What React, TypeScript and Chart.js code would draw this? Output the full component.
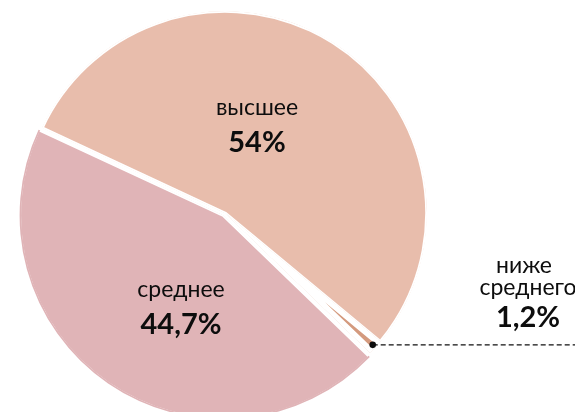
import React, { useEffect, useRef } from "react";
import { Chart, registerables } from "chart.js";

Chart.register(...registerables);

const categories = ["высшее", "ниже среднего", "среднее"];
const values = [54, 1.2, 44.7];
const valueLabels = ["54%", "1,2%", "44,7%"];
const colors = ["#E8BDAC", "#D49A7E", "#E0B4B7"];

const FONT = "Lato, 'Noto Sans', sans-serif";

const labelsPlugin = {
  id: "pieLabels",
  afterDatasetsDraw(chart: any) {
    const ctx = chart.ctx as CanvasRenderingContext2D;
    const meta = chart.getDatasetMeta(0);
    const top = meta.data[0];
    const cx = top.x;
    const cy = top.y;
    ctx.save();
    ctx.fillStyle = "#0d0d0d";
    ctx.textAlign = "center";
    ctx.textBaseline = "alphabetic";

    // высшее
    ctx.font = `23px ${FONT}`;
    ctx.fillText(categories[0], cx + 32, cy - 98);
    ctx.font = `bold 29px ${FONT}`;
    ctx.fillText(valueLabels[0], cx + 32, cy - 61);

    // среднее
    ctx.font = `23px ${FONT}`;
    ctx.fillText(categories[2], cx - 44, cy + 84);
    ctx.font = `bold 29px ${FONT}`;
    ctx.fillText(valueLabels[2], cx - 44, cy + 121);

    // ниже среднего: dot + dashed leader
    const small = meta.data[1];
    const mid = (small.startAngle + small.endAngle) / 2;
    const r = small.outerRadius - 4;
    const dx = cx + Math.cos(mid) * r;
    const dy = cy + Math.sin(mid) * r;
    ctx.strokeStyle = "#111";
    ctx.lineWidth = 1.3;
    ctx.setLineDash([5, 3]);
    ctx.beginPath();
    ctx.moveTo(dx, dy);
    ctx.lineTo(chart.width, dy);
    ctx.stroke();
    ctx.setLineDash([]);
    ctx.beginPath();
    ctx.arc(dx, dy, 3.3, 0, Math.PI * 2);
    ctx.fill();

    const lx = chart.width - 49;
    const parts = categories[1].split(" ");
    ctx.font = `23px ${FONT}`;
    ctx.fillText(parts[0], lx - 2, dy - 72);
    ctx.fillText(parts[1], lx + 2, dy - 50);
    ctx.font = `bold 29px ${FONT}`;
    ctx.fillText(valueLabels[1], lx + 2, dy - 18);
    ctx.restore();
  },
};

export default function App() {
  const ref = useRef<HTMLCanvasElement | null>(null);
  useEffect(() => {
    if (!ref.current) return;
    const chart = new Chart(ref.current, {
      type: "pie",
      data: {
        labels: categories,
        datasets: [
          {
            data: values,
            backgroundColor: colors,
            borderColor: "#ffffff",
            borderWidth: [1.5, 5, 1.5],
            borderAlign: "inner",
            offset: [0, 0, 12],
            clip: false,
          } as any,
        ],
      },
      options: {
        animation: false,
        responsive: true,
        maintainAspectRatio: false,
        rotation: 295,
        radius: 202,
        layout: { padding: { left: 0, right: 125, top: 14, bottom: 0 } },
        plugins: {
          legend: { display: false },
          tooltip: { enabled: false },
        },
      } as any,
      plugins: [labelsPlugin],
    });
    return () => chart.destroy();
  }, []);
  return (
    <div style={{ position: "absolute", left: 0, top: 0, width: 575, height: 412 }}>
      <canvas ref={ref} />
    </div>
  );
}
